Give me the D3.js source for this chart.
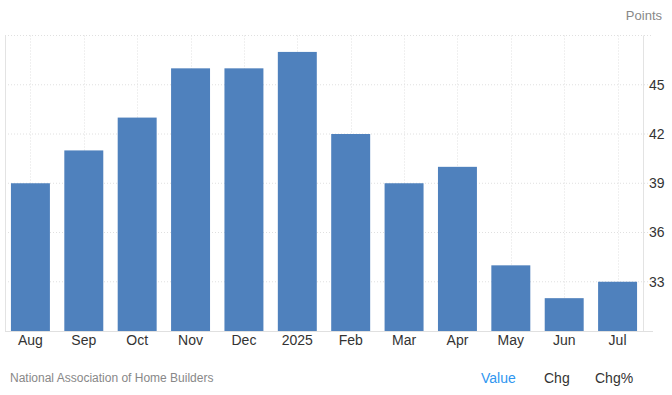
<!DOCTYPE html>
<html>
<head>
<meta charset="utf-8">
<script src="https://cdn.jsdelivr.net/npm/d3@7"></script>
<style>
  body { margin: 0; background: #fff; }
  svg { display: block; font-family: "Liberation Sans", Arial, sans-serif; }
</style>
</head>
<body>
<script>
const months = ['Aug', 'Sep', 'Oct', 'Nov', 'Dec', '2025', 'Feb', 'Mar', 'Apr', 'May', 'Jun', 'Jul'];
const values = [39, 41, 43, 46, 46, 47, 42, 39, 40, 34, 32, 33];
const yTicks = [33, 36, 39, 42, 45];
const footerTabs = ['Value', 'Chg', 'Chg%'];

const chartWidth = 672;
const chartHeight = 395;

const margin = { top: 35.5, right: 28, bottom: 64, left: 4 };
const width = chartWidth - margin.left - margin.right;
const height = chartHeight - margin.top - margin.bottom;

const scalaX = d3.scaleBand()
  .range([0, width])
  .domain(months)
  .paddingInner(0.27)
  .paddingOuter(0.13);

const scalaY = d3.scaleLinear()
  .range([height, 0])
  .domain([30, 48]);

const svg = d3.select('body')
  .append('svg')
  .attr('width', chartWidth)
  .attr('height', chartHeight);

const g = svg.append('g')
  .attr('transform', 'translate(' + margin.left + ',' + margin.top + ')');

// grid horizontal
g.append('g')
  .selectAll('line')
  .data(yTicks.concat([48]))
  .enter()
  .append('line')
  .attr('x1', 1)
  .attr('x2', width + 9)
  .attr('y1', (d) => scalaY(d))
  .attr('y2', (d) => scalaY(d))
  .attr('stroke', '#e0e0e0')
  .attr('stroke-dasharray', '1,2');

// grid vertical at category centres
g.append('g')
  .selectAll('line')
  .data(months)
  .enter()
  .append('line')
  .attr('x1', (d) => Math.round(scalaX(d) + scalaX.bandwidth() / 2) + 0.5)
  .attr('x2', (d) => Math.round(scalaX(d) + scalaX.bandwidth() / 2) + 0.5)
  .attr('y1', 0)
  .attr('y2', height)
  .attr('stroke', '#e0e0e0')
  .attr('stroke-dasharray', '1,2');

// side lines
g.append('line')
  .attr('x1', 1.5).attr('x2', 1.5)
  .attr('y1', 0).attr('y2', height)
  .attr('stroke', '#e3e3e3');
g.append('line')
  .attr('x1', width - 0.5).attr('x2', width - 0.5)
  .attr('y1', 0).attr('y2', height)
  .attr('stroke', '#e3e3e3');

g.selectAll('rect')
  .data(values)
  .enter()
  .append('rect')
  .attr('x', (d, i) => scalaX(months[i]))
  .attr('width', scalaX.bandwidth())
  .attr('y', (d) => scalaY(d))
  .attr('height', (d) => height - scalaY(d))
  .attr('fill', '#4f81bd');

// bottom axis
const xAxis = d3.axisBottom(scalaX).tickSize(0).tickPadding(4);
const gx = g.append('g')
  .attr('transform', 'translate(0,' + height + ')')
  .call(xAxis);
gx.select('.domain').remove();
gx.append('line')
  .attr('x1', 1).attr('x2', width + 9)
  .attr('y1', 0.5).attr('y2', 0.5)
  .attr('stroke', '#e0e0e0');
gx.selectAll('text')
  .attr('fill', '#333')
  .attr('font-size', 14)
  .attr('font-family', '"Liberation Sans", Arial, sans-serif');

// right axis
const yAxis = d3.axisRight(scalaY).tickValues(yTicks).tickSize(0).tickPadding(5);
const gy = g.append('g')
  .attr('transform', 'translate(' + width + ',0)')
  .call(yAxis);
gy.select('.domain').remove();
gy.selectAll('text')
  .attr('fill', '#333')
  .attr('font-size', 14)
  .attr('font-family', '"Liberation Sans", Arial, sans-serif');

svg.append('text')
  .attr('x', 662)
  .attr('y', 20)
  .attr('text-anchor', 'end')
  .attr('fill', '#888')
  .attr('font-size', 13)
  .text('Points');

svg.append('text')
  .attr('x', 10)
  .attr('y', 382)
  .attr('fill', '#888')
  .attr('font-size', 12)
  .text('National Association of Home Builders');

const tabX = [481, 544, 595];
svg.selectAll('.tab')
  .data(footerTabs)
  .enter()
  .append('text')
  .attr('class', 'tab')
  .attr('x', (d, i) => tabX[i])
  .attr('y', 383)
  .attr('font-size', 14)
  .attr('fill', (d, i) => i === 0 ? '#2f96f0' : '#333')
  .text((d) => d);
</script>
</body>
</html>
